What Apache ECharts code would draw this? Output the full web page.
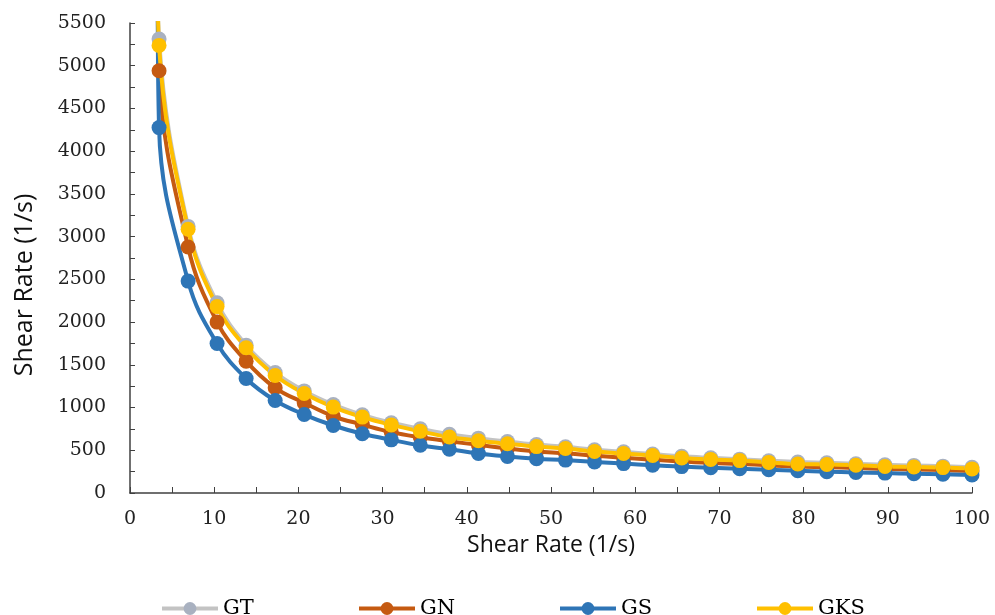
<!DOCTYPE html>
<html>
<head>
<meta charset="utf-8">
<script src="https://cdn.jsdelivr.net/npm/echarts@6/dist/echarts.min.js"></script>
<style>
  html, body { margin: 0; padding: 0; background: #fff; }
  #main { width: 995px; height: 615px; }
</style>
</head>
<body>
<div id="main"></div>
<script>
// shear rate points (x)
var shearX = [3.45, 6.90, 10.34, 13.79, 17.24, 20.69, 24.14, 27.59, 31.03, 34.48,
  37.93, 41.38, 44.83, 48.28, 51.72, 55.17, 58.62, 62.07, 65.52, 68.97,
  72.41, 75.86, 79.31, 82.76, 86.21, 89.66, 93.10, 96.55, 100]

var gtData = [5313, 3120, 2225, 1730, 1410, 1195, 1035, 915, 822, 752, 688, 642, 602, 567, 540,
  506, 482, 456, 430, 412, 396, 378, 362, 353, 343, 330, 323, 314, 300]
var gnData = [4941, 2879, 2000, 1543, 1231, 1055, 898, 801, 712, 652, 605, 563, 522, 486, 465,
  436, 413, 390, 368, 352, 340, 324, 310, 302, 292, 282, 276, 268, 256]
var gsData = [4276, 2480, 1750, 1340, 1082, 918, 790, 693, 622, 558, 512, 462, 428, 402, 385,
  362, 344, 326, 309, 296, 284, 272, 260, 250, 241, 233, 226, 219, 212]
var gksData = [5238, 3087, 2181, 1700, 1375, 1164, 1005, 888, 797, 722, 655, 612, 576, 543, 520,
  485, 463, 438, 410, 392, 379, 358, 340, 334, 325, 310, 305, 297, 282]

// the curves run off the top just left of the first point
var leadX = 3.3
var leadY = { GT: 5900, GN: 5800, GS: 5700, GKS: 5850 }

var seriesNames = ['GT', 'GN', 'GS', 'GKS']
var lineColors = ['#C3C3C3', '#C55A11', '#2E75B6', '#FFC000']
var dotColors = ['#A9B1C0', '#C55A11', '#2E75B6', '#FFC000']

function buildData (name, vals) {
  var arr = [{ value: [leadX, leadY[name]], symbol: 'none' }]
  for (var i = 0; i < vals.length; i++) {
    arr.push([shearX[i], vals[i]])
  }
  return arr
}

var allVals = [gtData, gnData, gsData, gksData]
var series = []
var legends = []
var legendLeft = [160, 357, 558, 755]
for (var s = 0; s < seriesNames.length; s++) {
  series.push({
    name: seriesNames[s],
    type: 'line',
    smooth: 0.4,
    symbol: 'circle',
    symbolSize: 15,
    clip: true,
    data: buildData(seriesNames[s], allVals[s]),
    lineStyle: { color: lineColors[s], width: 4 },
    itemStyle: { color: dotColors[s] }
  })
  legends.push({
    data: [seriesNames[s]],
    left: legendLeft[s],
    top: 598,
    padding: 0,
    itemWidth: 56,
    itemHeight: 16,
    lineStyle: { width: 4 },
    textStyle: { fontFamily: 'DejaVu Serif', fontSize: 21, color: '#000' }
  })
}

var tickFont = { fontFamily: 'DejaVu Serif', fontSize: 19, color: '#222' }
var axisLn = { show: true, lineStyle: { color: '#404040', width: 1.5 } }

var option = {
  animation: false,
  backgroundColor: '#fff',
  grid: { left: 130, right: 23, top: 23, bottom: 122 },
  legend: legends,
  xAxis: {
    type: 'value',
    min: 0,
    max: 100,
    interval: 10,
    name: 'Shear Rate (1/s)',
    nameLocation: 'middle',
    nameGap: 37,
    nameTextStyle: { fontFamily: 'Open Sans', fontSize: 23, color: '#111' },
    axisLine: axisLn,
    axisTick: { show: true, inside: true, length: 6, lineStyle: { color: '#404040' } },
    minorTick: { show: true, splitNumber: 2, length: 6, lineStyle: { color: '#404040' } },
    axisLabel: Object.assign({ margin: 17 }, tickFont),
    splitLine: { show: false }
  },
  yAxis: {
    type: 'value',
    min: 0,
    max: 5500,
    interval: 500,
    axisLine: axisLn,
    axisTick: { show: true, inside: true, length: 5, lineStyle: { color: '#404040' } },
    minorTick: { show: true, splitNumber: 2, length: 5, lineStyle: { color: '#404040' } },
    axisLabel: Object.assign({ margin: 24, formatter: function (v) { return String(v) } }, tickFont),
    splitLine: { show: false }
  },
  graphic: [{
    type: 'text',
    x: 25,
    y: 285,
    rotation: Math.PI / 2,
    style: {
      text: 'Shear Rate (1/s)',
      fontFamily: 'Open Sans',
      fontSize: 25,
      fill: '#111',
      align: 'center',
      verticalAlign: 'middle'
    }
  }],
  series: series
}

var chart = echarts.init(document.getElementById('main'))
chart.setOption(option)
</script>
</body>
</html>
